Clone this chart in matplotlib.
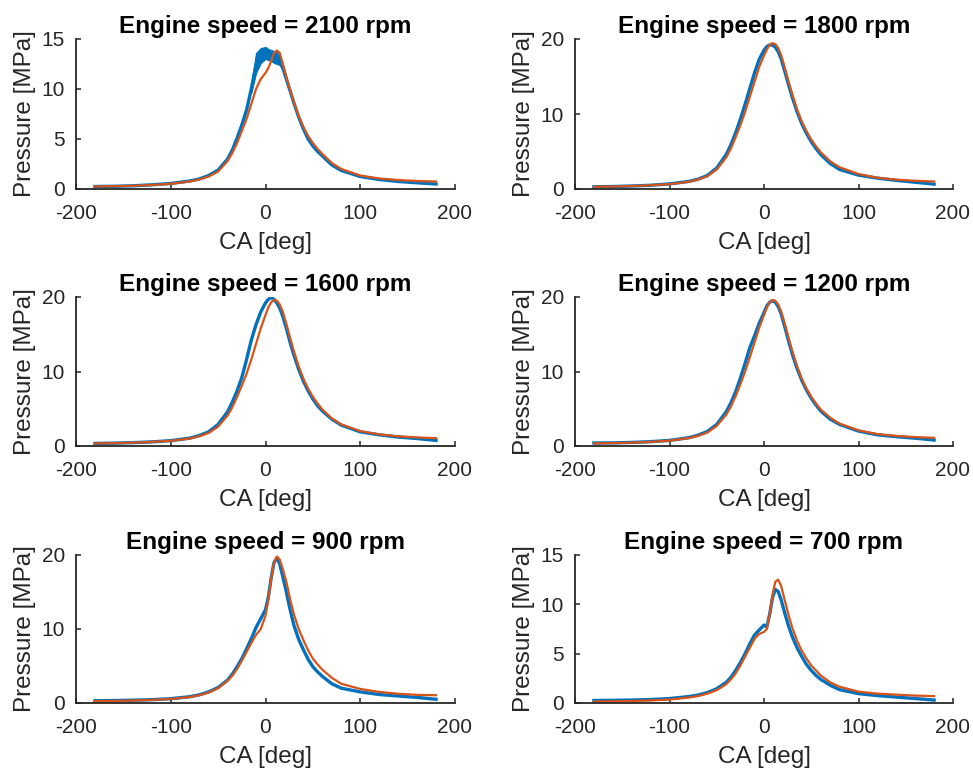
import numpy as np
import matplotlib
matplotlib.use('Agg')
import matplotlib.pyplot as plt

plt.rcParams['font.family'] = ['Liberation Sans', 'DejaVu Sans']
plt.rcParams['axes.unicode_minus'] = False

BLUE = '#0072BD'
ORANGE = '#D95319'
AXCOL = '#262626'

# crank angle grid [deg]
ca = [-180, -160, -140, -120, -100, -80, -70, -60, -50, -40, -35, -30, -25, -20,
      -15, -10, -5, 0, 3, 6, 9, 12, 15, 18, 22, 26, 30, 35, 40, 45, 50, 55, 60, 70, 80,
      100, 120, 140, 160, 180]

speeds = [2100, 1800, 1600, 1200, 900, 700]
ylims = [15, 20, 20, 20, 20, 15]
yticks = [[0, 5, 10, 15], [0, 10, 20], [0, 10, 20], [0, 10, 20], [0, 10, 20], [0, 5, 10, 15]]

# measured pressure [MPa]
meas_2100 = [0.25, 0.27, 0.32, 0.42, 0.55, 0.8, 1.0, 1.35, 1.9, 3.0, 3.9, 5.1, 6.4, 7.9,
             10.0, 12.4, 13.6, 13.7, 13.5, 13.3, 13.2, 13.0, 12.8, 12.2, 11.0, 9.8, 8.6,
             7.2, 6.0, 5.0, 4.3, 3.75, 3.3, 2.4, 1.85, 1.25, 0.95, 0.75, 0.62, 0.5]
meas_1800 = [0.3, 0.33, 0.4, 0.5, 0.68, 1.0, 1.3, 1.8, 2.8, 4.6, 5.9, 7.5, 9.3, 11.3,
             13.4, 15.5, 17.3, 18.5, 19.0, 19.2, 19.2, 18.9, 18.3, 17.4, 15.7, 13.9, 12.2,
             10.3, 8.7, 7.4, 6.3, 5.4, 4.6, 3.4, 2.6, 1.85, 1.45, 1.15, 0.9, 0.65]
meas_1600 = [0.35, 0.38, 0.45, 0.55, 0.72, 1.05, 1.4, 1.9, 2.9, 4.6, 5.9, 7.4, 9.2, 11.6,
             14.2, 16.3, 18.0, 19.2, 19.7, 19.9, 19.7, 19.2, 18.5, 17.5, 15.8, 13.9, 12.2,
             10.3, 8.7, 7.4, 6.3, 5.4, 4.7, 3.6, 2.8, 1.9, 1.5, 1.2, 1.0, 0.75]
meas_1200 = [0.4, 0.42, 0.48, 0.58, 0.75, 1.1, 1.45, 1.95, 2.9, 4.6, 5.8, 7.3, 9.1, 11.1,
             13.2, 14.8, 16.5, 17.9, 18.8, 19.3, 19.5, 19.3, 18.7, 17.8, 16.0, 14.1, 12.3,
             10.4, 8.8, 7.5, 6.4, 5.5, 4.7, 3.6, 2.9, 2.0, 1.5, 1.25, 1.05, 0.8]
meas_900 = [0.3, 0.33, 0.38, 0.45, 0.58, 0.85, 1.1, 1.5, 2.1, 3.1, 3.9, 4.9, 6.0, 7.3,
            8.7, 10.2, 11.4, 12.6, 14.3, 16.9, 19.0, 19.6, 18.8, 17.2, 15.0, 12.6, 10.5,
            8.6, 7.2, 5.9, 4.9, 4.2, 3.6, 2.6, 2.0, 1.5, 1.15, 0.95, 0.75, 0.5]
meas_700 = [0.25, 0.27, 0.3, 0.35, 0.45, 0.65, 0.8, 1.05, 1.45, 2.1, 2.6, 3.3, 4.1, 5.0,
            6.0, 6.9, 7.4, 7.9, 7.7, 9.0, 10.7, 11.5, 11.3, 10.5, 9.1, 7.8, 6.7,
            5.6, 4.7, 3.9, 3.3, 2.8, 2.4, 1.8, 1.35, 0.95, 0.75, 0.6, 0.45, 0.3]

# noisy band of the 2100 rpm measurement around the peak
band_ca = [-15, -10, -5, 0, 3, 6, 9, 12, 15, 18, 22]
band_hi = [10.6, 13.6, 14.1, 14.2, 14.0, 13.9, 13.8, 13.7, 13.3, 12.6, 11.2]
band_lo = [9.6, 11.6, 12.6, 13.0, 12.9, 12.8, 12.6, 12.5, 12.4, 11.9, 10.8]

# simulated pressure [MPa]
sim_2100 = [0.25, 0.28, 0.32, 0.40, 0.52, 0.75, 0.95, 1.25, 1.75, 2.8, 3.6, 4.6, 5.8, 7.0,
            8.5, 10.0, 11.0, 11.6, 12.1, 12.8, 13.6, 13.85, 13.6, 12.6, 11.2, 9.9, 8.7,
            7.3, 6.2, 5.3, 4.6, 4.0, 3.5, 2.6, 2.0, 1.35, 1.05, 0.9, 0.8, 0.75]
sim_1800 = [0.3, 0.33, 0.4, 0.5, 0.65, 0.95, 1.25, 1.7, 2.6, 4.2, 5.4, 6.9, 8.5, 10.3,
            12.3, 14.3, 16.3, 17.8, 18.6, 19.2, 19.45, 19.3, 18.8, 17.9, 16.2, 14.3, 12.6,
            10.6, 9.0, 7.7, 6.6, 5.7, 4.9, 3.7, 2.9, 2.0, 1.5, 1.25, 1.1, 1.0]
sim_1600 = [0.35, 0.38, 0.45, 0.55, 0.7, 1.0, 1.3, 1.75, 2.6, 4.1, 5.2, 6.6, 8.1, 9.7,
            11.6, 13.7, 15.8, 17.6, 18.6, 19.3, 19.6, 19.5, 19.0, 18.1, 16.4, 14.5, 12.7,
            10.7, 9.0, 7.7, 6.6, 5.7, 4.9, 3.7, 2.9, 2.0, 1.55, 1.3, 1.15, 1.05]
sim_1200 = [0.35, 0.38, 0.45, 0.55, 0.72, 1.05, 1.35, 1.8, 2.7, 4.2, 5.3, 6.7, 8.3, 10.0,
            11.9, 13.9, 15.9, 17.6, 18.6, 19.3, 19.6, 19.5, 19.0, 18.1, 16.4, 14.5, 12.7,
            10.7, 9.0, 7.7, 6.6, 5.7, 4.9, 3.8, 3.0, 2.1, 1.6, 1.35, 1.2, 1.1]
sim_900 = [0.25, 0.28, 0.33, 0.42, 0.55, 0.8, 1.05, 1.4, 2.0, 3.0, 3.7, 4.6, 5.7, 6.9,
           8.1, 9.2, 10.0, 11.8, 14.0, 16.8, 19.0, 19.8, 19.4, 18.2, 16.4, 14.0, 12.0,
           10.0, 8.5, 7.1, 6.0, 5.2, 4.5, 3.4, 2.6, 1.9, 1.5, 1.25, 1.1, 1.05]
sim_700 = [0.15, 0.17, 0.2, 0.26, 0.35, 0.55, 0.7, 0.95, 1.3, 1.9, 2.4, 3.0, 3.8, 4.7,
           5.6, 6.5, 7.0, 7.2, 7.5, 9.0, 11.0, 12.3, 12.5, 11.9, 10.4, 8.9, 7.6,
           6.3, 5.3, 4.5, 3.8, 3.3, 2.8, 2.1, 1.65, 1.15, 0.95, 0.85, 0.75, 0.7]

meas = [meas_2100, meas_1800, meas_1600, meas_1200, meas_900, meas_700]
sim = [sim_2100, sim_1800, sim_1600, sim_1200, sim_900, sim_700]

W, H = 973, 776
fig = plt.figure(figsize=(W / 100, H / 100), dpi=100)

# axes boxes in pixels: (left, right), (top, bottom)
cols = [(76, 455), (575, 953)]
rows = [(39, 189), (297, 446), (555, 703)]

for i in range(6):
    (x0, x1) = cols[i % 2]
    (y0, y1) = rows[i // 2]
    ax = fig.add_axes([x0 / W, 1 - y1 / H, (x1 - x0) / W, (y1 - y0) / H])

    if i == 0:
        ax.fill_between(band_ca, band_lo, band_hi, color=BLUE, lw=0.8)
    ax.plot(ca, meas[i], color=BLUE, lw=2.4, solid_joinstyle='round')
    ax.plot(ca, sim[i], color=ORANGE, lw=1.6, solid_joinstyle='round')

    ax.set_xlim(-200, 200)
    ax.set_ylim(0, ylims[i])
    ax.set_xticks([-200, -100, 0, 100, 200])
    ax.set_yticks(yticks[i])
    ax.spines['top'].set_visible(False)
    ax.spines['right'].set_visible(False)
    for s in ['left', 'bottom']:
        ax.spines[s].set_color(AXCOL)
        ax.spines[s].set_linewidth(1.3)
    ax.tick_params(direction='in', length=3.5, width=1.1, colors=AXCOL,
                   labelsize=15, pad=8)
    ax.tick_params(axis='x', pad=11)
    ax.set_xlabel('CA [deg]', fontsize=17.5, color=AXCOL, labelpad=6)
    ax.set_ylabel('Pressure [MPa]', fontsize=17.5, color=AXCOL, labelpad=4)
    ax.set_title('Engine speed = %d rpm' % speeds[i], fontsize=17.5,
                 fontweight='bold', pad=4)

fig.savefig('out.png', dpi=100)
